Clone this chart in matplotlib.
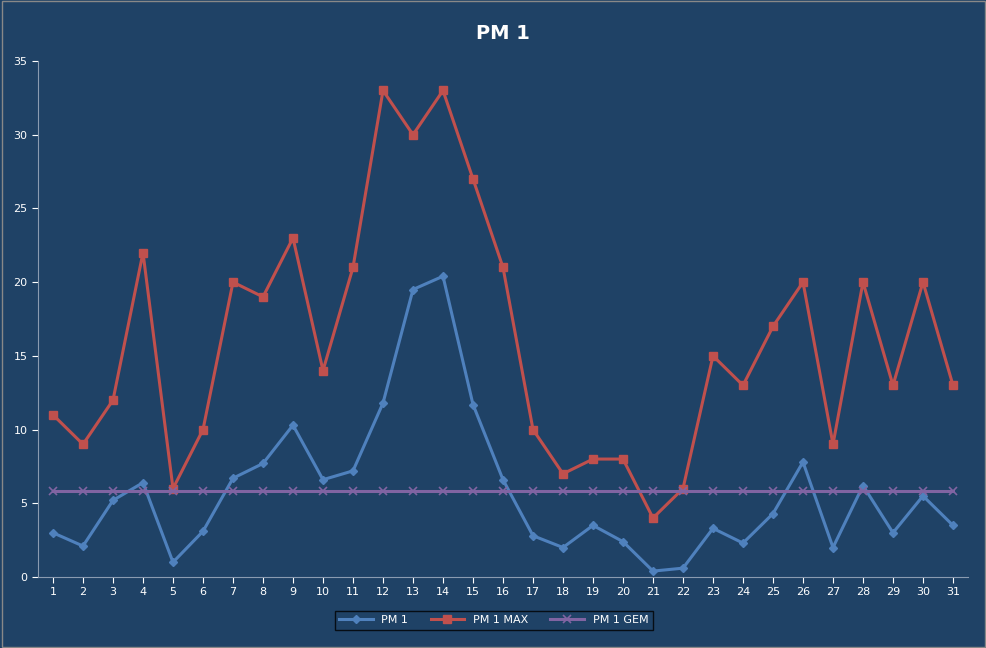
import matplotlib
matplotlib.use("Agg")
import matplotlib.pyplot as plt

days = list(range(1, 32))
pm1 = [3.0,2.1,5.2,6.4,1.0,3.1,6.7,7.7,10.3,6.6,7.2,11.8,19.5,20.4,11.7,6.6,2.8,2.0,3.5,2.4,0.4,0.6,3.3,2.3,4.3,7.8,2.0,6.2,3.0,5.5,3.5]
pm1_max = [11,9,12,22,6,10,20,19,23,14,21,33,30,33,27,21,10,7,8,8,4,6,15,13,17,20,9,20,13,20,13]
pm1_gem = [5.8]*31

bg = "#1F4266"
fig = plt.figure(figsize=(9.87, 6.48), dpi=100, facecolor=bg)
ax = fig.add_axes([38/987, 1-577/648, 930/987, 516/648], facecolor=bg)
ax.plot(days, pm1, color="#4F81BD", marker="D", ms=4, lw=2.2, label="PM 1")
ax.plot(days, pm1_max, color="#C0504D", marker="s", ms=6, lw=2.2, label="PM 1 MAX")
ax.plot(days, pm1_gem, color="#8064A2", marker="x", ms=6, mew=1.2, lw=2.2, label="PM 1 GEM")
ax.set_xlim(0.5, 31.5)
ax.set_ylim(0, 35)
ax.set_xticks(days)
ax.set_yticks(range(0, 36, 5))
ax.tick_params(colors="white", labelsize=8, length=4)
for s in ["top", "right"]:
    ax.spines[s].set_visible(False)
for s in ["left", "bottom"]:
    ax.spines[s].set_color("#8A9BB0")
ax.set_title("PM 1", color="white", fontsize=14, fontweight="bold", pad=16)
leg = ax.legend(loc="upper center", bbox_to_anchor=(0.49, -0.055), ncol=3, frameon=True,
                fontsize=8, facecolor=bg, edgecolor="black", fancybox=False, handlelength=3)
for t in leg.get_texts():
    t.set_color("white")
fig.patches.append(plt.Rectangle((0.002, 0.002), 0.996, 0.996, transform=fig.transFigure,
                                 fill=False, edgecolor="#888888", lw=1))
fig.savefig("out.png", facecolor=bg)
